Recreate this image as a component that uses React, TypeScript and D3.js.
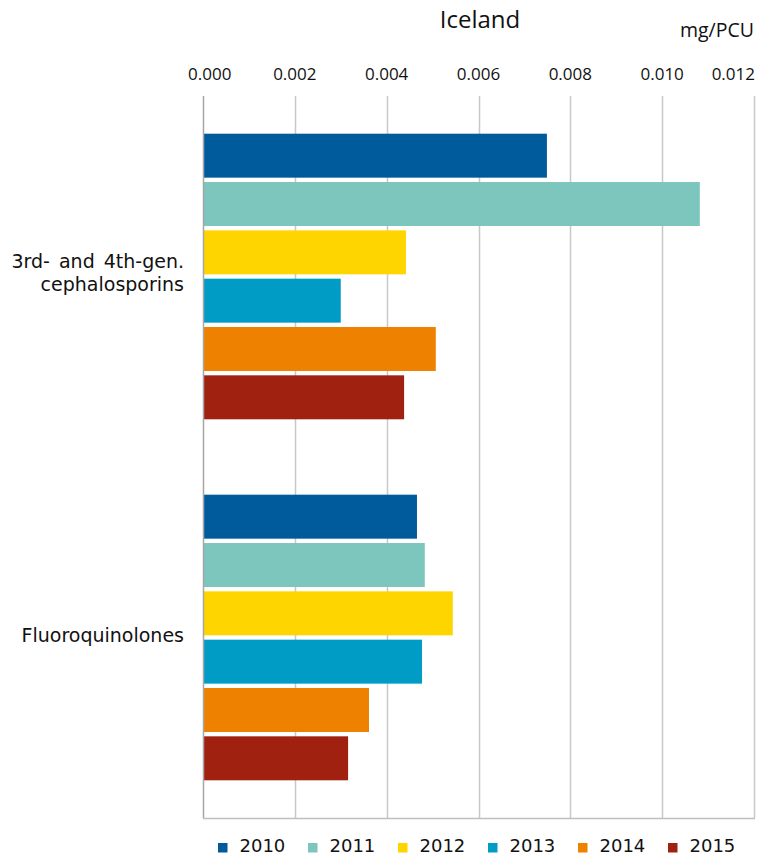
import React from "react";
import * as d3 from "d3";

const categories = ["3rd- and 4th-gen.\ncephalosporins", "Fluoroquinolones"];
const years = ["2010", "2011", "2012", "2013", "2014", "2015"];
const values2010 = [0.00749, 0.00466];
const values2011 = [0.01082, 0.00483];
const values2012 = [0.00442, 0.00544];
const values2013 = [0.003, 0.00477];
const values2014 = [0.00507, 0.003615];
const values2015 = [0.00438, 0.00316];
const xTicks = [0, 0.002, 0.004, 0.006, 0.008, 0.01, 0.012];
const colors = ["#005b9c", "#7cc6be", "#ffd500", "#009cc6", "#ef8100", "#a0210f"];

const series = [values2010, values2011, values2012, values2013, values2014, values2015];

const W = 758;
const H = 858;
const left = 203;
const right = 754;
const top = 96;
const bottom = 818;

export default function App() {
  const x = d3.scaleLinear().domain([0, 0.012]).range([left, right]);
  const y0 = d3.scaleBand<string>().domain(categories).range([top, bottom]).padding(0);
  const y1 = d3
    .scaleBand<string>()
    .domain(years)
    .range([0, y0.bandwidth()])
    .paddingInner(0.09)
    .paddingOuter(0.78);
  const fmt = d3.format(".3f");
  const sans = "'Open Sans', sans-serif";
  const dv = "'DejaVu Sans', Verdana, sans-serif";

  return (
    <svg
      width={W}
      height={H}
      style={{ position: "absolute", left: 0, top: 0, background: "#fff" }}
    >
      {/* title */}
      <text x={480} y={28} textAnchor="middle" fontFamily={sans} fontSize={24} fill="#111">
        Iceland
      </text>
      <text x={754} y={37} textAnchor="end" fontFamily={sans} fontSize={19.5} fill="#111">
        mg/PCU
      </text>
      {/* gridlines */}
      {xTicks.map((t, i) =>
        i === 0 ? null : (
          <line
            key={"g" + i}
            x1={Math.round(x(t)) + 0.5}
            x2={Math.round(x(t)) + 0.5}
            y1={top}
            y2={bottom}
            stroke="#c8c8c8"
            strokeWidth={1.5}
          />
        )
      )}
      {/* tick labels */}
      {xTicks.map((t, i) => {
        const last = i === xTicks.length - 1;
        const first = i === 0;
        return (
          <text
            key={"t" + i}
            x={first ? x(t) - 15 : last ? x(t) + 1 : x(t)}
            y={80}
            textAnchor={first ? "start" : last ? "end" : "middle"}
            fontFamily={sans}
            fontSize={17}
            fill="#111"
          >
            {fmt(t)}
          </text>
        );
      })}
      {/* bars */}
      {categories.map((c, ci) => (
        <g key={c} transform={`translate(0,${y0(c)})`}>
          {years.map((yr, si) => (
            <rect
              key={yr}
              x={x(0)}
              y={y1(yr)}
              width={x(series[si][ci]) - x(0)}
              height={y1.bandwidth()}
              fill={colors[si]}
            />
          ))}
        </g>
      ))}
      {/* axis lines */}
      <line x1={left + 0.5} x2={left + 0.5} y1={top} y2={bottom} stroke="#a6a6a6" strokeWidth={1.5} />
      <line x1={left} x2={right + 1} y1={bottom + 0.5} y2={bottom + 0.5} stroke="#bfbfbf" strokeWidth={1.5} />
      {/* category labels */}
      {categories.map((c) => {
        const lines = c.split("\n");
        const cy = (y0(c) as number) + y0.bandwidth() / 2;
        const n = lines.length;
        return (
          <text
            key={"l" + c}
            textAnchor="end"
            fontFamily={dv}
            fontSize={19}
            fill="#111"
            style={{ wordSpacing: "3px" }}
          >
            {lines.map((ln, i) => (
              <tspan key={i} x={184} y={cy + 6.8 - 2 - (n > 1 ? 2 : 0) + (i - (n - 1) / 2) * 23.4}>
                {ln}
              </tspan>
            ))}
          </text>
        );
      })}
      {/* legend */}
      {years.map((yr, i) => (
        <g key={"lg" + yr} transform={`translate(${218 + i * 90},0)`}>
          <rect x={0} y={843} width={9.5} height={9.5} fill={colors[i]} />
          <text x={21.5} y={852} fontFamily={dv} fontSize={18} fill="#111">
            {yr}
          </text>
        </g>
      ))}
    </svg>
  );
}
